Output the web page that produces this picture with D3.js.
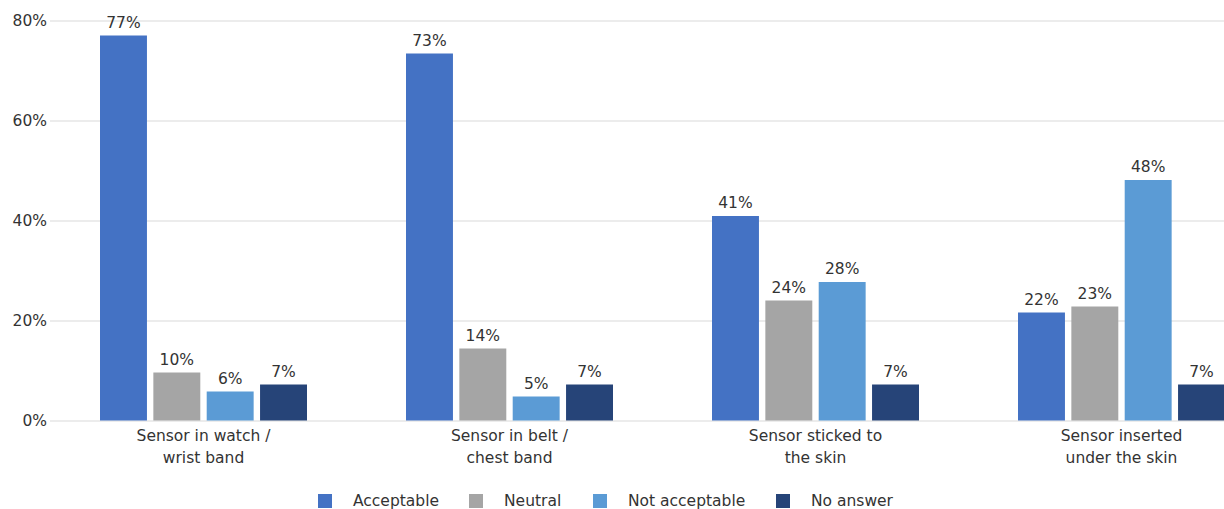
<!DOCTYPE html>
<html>
<head>
<meta charset="utf-8">
<script src="https://cdn.jsdelivr.net/npm/d3@7"></script>
<style>
  html, body { margin: 0; padding: 0; background: #fff; }
  svg { display: block; font-family: "DejaVu Sans", Verdana, sans-serif; }
</style>
</head>
<body>
<svg id="chart" width="1224" height="509"></svg>
<script>
const categories = [
  ["Sensor in watch /", "wrist band"],
  ["Sensor in belt /", "chest band"],
  ["Sensor sticked to", "the skin"],
  ["Sensor inserted", "under the skin"]
];
const seriesNames = ["Acceptable", "Neutral", "Not acceptable", "No answer"];
const seriesColors = ["#4472C4", "#A5A5A5", "#5B9BD5", "#264478"];
const acceptable    = [77.0, 73.4, 40.9, 21.6];
const neutral       = [9.6, 14.4, 24.0, 22.8];
const notAcceptable = [5.8, 4.8, 27.7, 48.1];
const noAnswer      = [7.2, 7.2, 7.2, 7.2];
const yTicks = [0, 20, 40, 60, 80];

const seriesValues = [acceptable, neutral, notAcceptable, noAnswer];
const catKeys = categories.map((c, i) => "c" + i);

const svg = d3.select("#chart");
const textColor = "#333";
const fontSize = 15.5;

const y = d3.scaleLinear().domain([0, 80]).range([420.5, 20.5]);
const x0 = d3.scaleBand().domain(catKeys).range([50.5, 1274.5]).paddingInner(0).paddingOuter(0);
const x1 = d3.scaleBand().domain(seriesNames).range([49.5, 256.5]).paddingInner(0.12).paddingOuter(0);

// gridlines + y labels via axis
const yAxis = d3.axisLeft(y).tickValues(yTicks).tickFormat(d => d + "%").tickSize(-(1224 - 50)).tickPadding(4);
const gy = svg.append("g").attr("transform", "translate(50,0)").call(yAxis);
gy.select(".domain").remove();
gy.selectAll(".tick line").attr("stroke", "#d9d9d9").attr("stroke-width", 1);
gy.selectAll(".tick text").attr("fill", textColor).style("font-size", fontSize + "px")
  .style("font-family", "DejaVu Sans, Verdana, sans-serif").attr("x", -3);

// bars
const groups = svg.append("g").selectAll("g")
  .data(catKeys).join("g")
  .attr("transform", d => `translate(${x0(d)},0)`);

groups.each(function(ck, ci) {
  const g = d3.select(this);
  const data = seriesNames.map((s, si) => ({ s, si, v: seriesValues[si][ci] }));
  g.selectAll("rect").data(data).join("rect")
    .attr("x", d => x1(d.s))
    .attr("y", d => y(d.v))
    .attr("width", x1.bandwidth())
    .attr("height", d => y(0) - y(d.v))
    .attr("fill", d => seriesColors[d.si]);
  g.selectAll("text.val").data(data).join("text")
    .attr("class", "val")
    .attr("x", d => x1(d.s) + x1.bandwidth() / 2)
    .attr("y", d => y(d.v) - 8)
    .attr("text-anchor", "middle")
    .attr("fill", textColor)
    .style("font-size", fontSize + "px")
    .text(d => Math.round(d.v) + "%");
});

// category labels
const catG = svg.append("g");
catKeys.forEach((ck, ci) => {
  const cx = x0(ck) + x0.bandwidth() / 2;
  const t = catG.append("text")
    .attr("text-anchor", "middle")
    .attr("fill", textColor)
    .style("font-size", fontSize + "px");
  categories[ci].forEach((line, li) => {
    t.append("tspan").attr("x", cx).attr("y", 441 + li * 22).text(line);
  });
});

// legend
const legend = svg.append("g");
const legendX = [318, 469, 593, 776];
seriesNames.forEach((s, i) => {
  const lg = legend.append("g").attr("transform", `translate(${legendX[i]},0)`);
  lg.append("rect").attr("x", 0).attr("y", 494).attr("width", 14).attr("height", 14).attr("fill", seriesColors[i]);
  lg.append("text").attr("x", 35).attr("y", 506).attr("fill", textColor)
    .style("font-size", fontSize + "px").text(s);
});
</script>
</body>
</html>
